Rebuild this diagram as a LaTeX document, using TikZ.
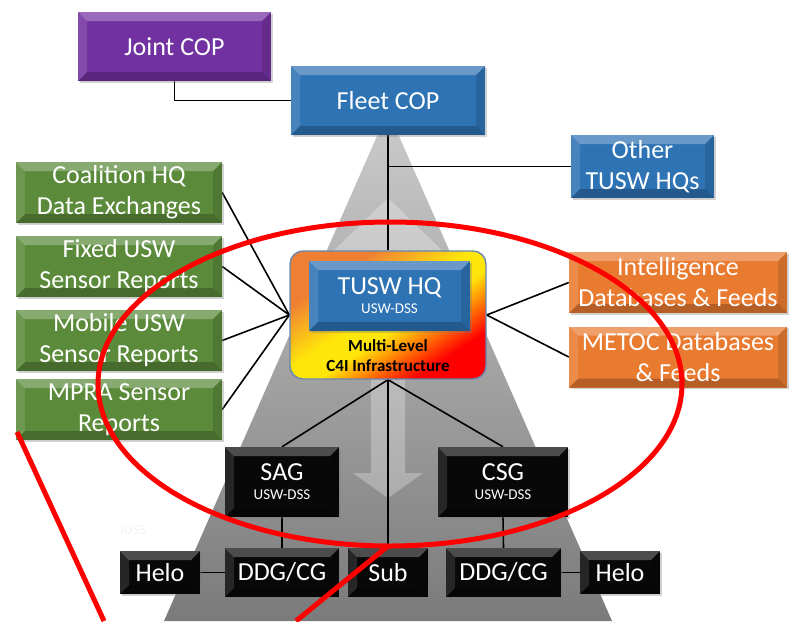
\documentclass[tikz,border=0pt]{standalone}
\usepackage{fontspec}
\setmainfont{Carlito}
\usepackage{tikz}
\usetikzlibrary{
  calc,
  shadows,
  backgrounds,
  positioning,
}
\definecolor{jointpurple}{HTML}{7231A1}
\definecolor{hqblue}{HTML}{2E73B4}
\definecolor{srcgreen}{HTML}{5A8A3A}
\definecolor{feedorange}{HTML}{E97B31}
\definecolor{unitblack}{HTML}{080808}
\definecolor{mlborder}{HTML}{6688B0}
\definecolor{mlorange}{HTML}{EF7F33}
\definecolor{mlyellow}{HTML}{FFE60A}
\definecolor{mlred}{HTML}{FF0000}
\pgfdeclarehorizontalshading{mlshade}{100bp}{color(0bp)=(mlorange); color(30bp)=(mlorange);
  color(47bp)=(mlyellow); color(55bp)=(mlyellow); color(72bp)=(mlred); color(100bp)=(mlred)}
\newcommand{\uswdss}{{\fontsize{15}{18}\selectfont USW-DSS}}
\tikzset{
  unit/.style = {
      rectangle,
      text=white,
      font=\fontsize{26}{31}\selectfont,
      align=center,
      inner sep=0pt,
      drop shadow={opacity=.35, shadow xshift=1.5pt, shadow yshift=-1.5pt},
      path picture={
          \coordinate (bnw) at (path picture bounding box.north west);
          \coordinate (bne) at (path picture bounding box.north east);
          \coordinate (bsw) at (path picture bounding box.south west);
          \coordinate (bse) at (path picture bounding box.south east);
          \fill[white, opacity=.28] (bnw) -- (bne) -- ([shift={(-9pt,-9pt)}]bne) -- ([shift={(9pt,-9pt)}]bnw) -- cycle;
          \fill[white, opacity=.12] (bnw) -- ([shift={(9pt,-9pt)}]bnw) -- ([shift={(9pt,9pt)}]bsw) -- (bsw) -- cycle;
          \fill[black, opacity=.12] (bne) -- ([shift={(-9pt,-9pt)}]bne) -- ([shift={(-9pt,9pt)}]bse) -- (bse) -- cycle;
          \fill[black, opacity=.22] (bsw) -- ([shift={(9pt,9pt)}]bsw) -- ([shift={(-9pt,9pt)}]bse) -- (bse) -- cycle;
        },
    },
  boxsize/.style 2 args = {minimum width=#1, minimum height=#2},
  jointbox/.style = {unit, fill=jointpurple},
  hqbox/.style = {unit, fill=hqblue},
  srcbox/.style = {unit, fill=srcgreen, boxsize={206pt}{61pt}},
  feedbox/.style = {unit, fill=feedorange, boxsize={218pt}{61pt}},
  blkbox/.style = {unit, fill=unitblack},
  mlbox/.style = {
      rectangle,
      rounded corners=13pt,
      draw=mlborder,
      line width=1.4pt,
      shading=mlshade,
      shading angle=-57,
      minimum width=196pt,
      minimum height=128pt,
    },
  mltext/.style = {
      align=center,
      font=\bfseries\fontsize{17}{20}\selectfont,
    },
  link/.style = {draw=black, line width=1.6pt},
  callout/.style = {draw=red, line width=5pt},
}

\begin{document}
\begin{tikzpicture}[x=1pt, y=-1pt]
  \useasboundingbox (0,0) rectangle (794,621);

  % command chain
  \node[jointbox, boxsize={193pt}{69pt}] (joint) at (174.5,46.5) {Joint COP};
  \node[hqbox, boxsize={194pt}{69pt}] (fleet) at (388,100.5) {Fleet COP};
  \node[hqbox, boxsize={143pt}{63pt}] (other) at (642.5,166.5) {Other\\TUSW HQs};

  % sensor and data sources
  \node[srcbox] (coal) at (119,192.5) {Coalition HQ\\Data Exchanges};
  \node[srcbox] (fixed) at (119,266.5) {Fixed USW\\Sensor Reports};
  \node[srcbox] (mobile) at (119,340.5) {Mobile USW\\Sensor Reports};
  \node[srcbox] (mpra) at (119,409.5) {MPRA Sensor\\Reports};
  \node[feedbox] (intel) at (678,282.5) {Intelligence\\Databases \& Feeds};
  \node[feedbox] (metoc) at (678,357) {METOC Databases\\\& Feeds};

  % C4I box
  \node[mlbox] (ml) at (388,315) {};
  \node[hqbox, boxsize={161pt}{70pt}] (tusw) at (389.5,296) {TUSW HQ\\[-12pt]\uswdss};
  \node[mltext] (mlt) at (388,356) {Multi-Level\\C4I Infrastructure};

  % forces
  \node[blkbox, boxsize={114pt}{70pt}] (sag) at (282,482) {SAG\\[-12pt]\uswdss};
  \node[blkbox, boxsize={130pt}{70pt}] (csg) at (503,482) {CSG\\[-12pt]\uswdss};
  \node[blkbox, boxsize={114pt}{49pt}] (ddgl) at (282,572.5) {DDG/CG};
  \node[blkbox, boxsize={80pt}{49pt}] (sub) at (388,572.5) {Sub};
  \node[blkbox, boxsize={115pt}{49pt}] (ddgr) at (503.5,572.5) {DDG/CG};
  \node[blkbox, boxsize={80pt}{43pt}] (helol) at (160,572.5) {Helo};
  \node[blkbox, boxsize={80pt}{43pt}] (helor) at (620,572.5) {Helo};
  \node[text=black!5, font=\fontsize{14}{16}\selectfont] (iuss) at (133,530) {IUSS};

  \begin{scope}[on background layer]
    \shade[top color=black!20, bottom color=black!52] (388,111) -- (612,621) -- (164,621) -- cycle;
    \fill[white, opacity=.28] (388,198) -- (326,258) -- (371,258) -- (371,473) -- (353,473) -- (388,498)
      -- (423,473) -- (405,473) -- (405,258) -- (450,258) -- cycle;

    \draw[link] (joint.south) |- (fleet.west);
    \draw[link] (fleet.south) -- (ml.north);
    \draw[link] (fleet.south |- other.west) -- (other.west);
    \foreach \s in {coal, fixed, mobile, mpra}
      \draw[link] (\s.east) -- (ml.west);
    \foreach \s in {intel, metoc}
      \draw[link] (\s.west) -- (ml.east);
    \draw[link] (ml.south) -- (sag.north);
    \draw[link] (ml.south) -- (csg.north);
    \draw[link] (ml.south) -- (sub.north);
    \draw[link] (sag.south) -- (ddgl.north);
    \draw[link] (csg.south) -- (ddgr.north);
    \draw[link] (helol.east) -- (ddgl.west);
    \draw[link] (ddgr.east) -- (helor.west);
  \end{scope}

  % red call-out
  \draw[callout] (390,384) ellipse [x radius=292pt, y radius=162pt];
  \draw[callout] (17,432) -- (104,621);
  \draw[callout] (388,546) -- (296,621);
\end{tikzpicture}
\end{document}
